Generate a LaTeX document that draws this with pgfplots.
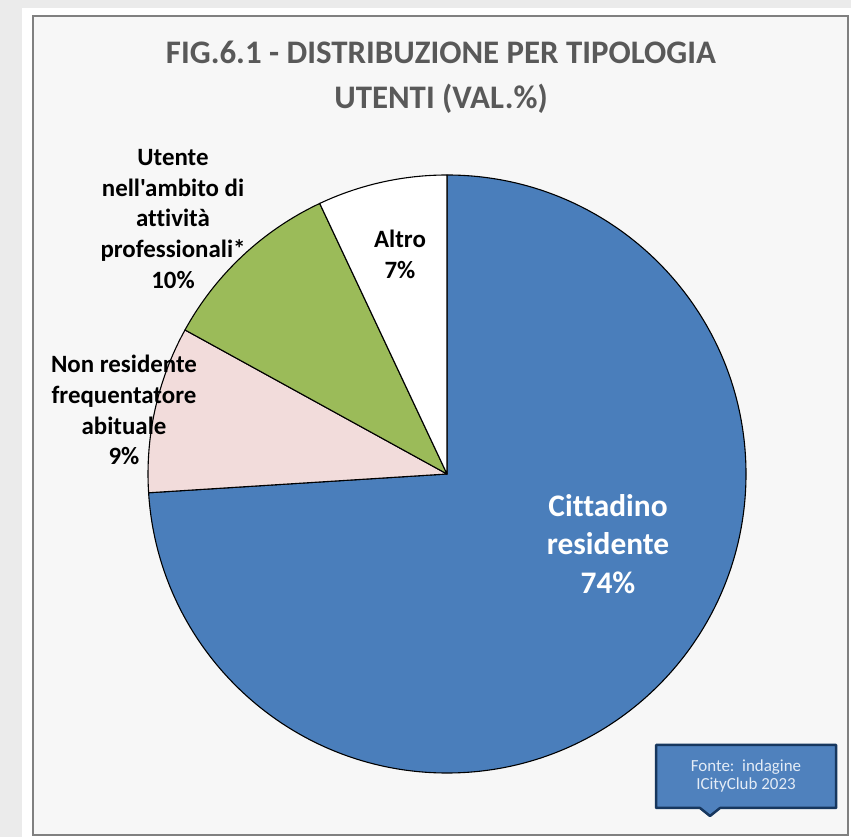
\documentclass[border=0pt]{standalone}
\usepackage{pgfplots}
\pgfplotsset{compat=1.18}
\usepackage{pgfplotstable}
\usepackage{fontspec}
\setmainfont{Carlito}[Ligatures={TeXOff,NoCommon}]

\definecolor{pie0}{HTML}{4A7EBB}
\definecolor{pie1}{HTML}{F2DCDB}
\definecolor{pie2}{HTML}{9BBB59}
\definecolor{pie3}{HTML}{FFFFFF}
\definecolor{titlegray}{HTML}{595959}
\definecolor{panel}{HTML}{F7F7F7}
\definecolor{boxblue}{HTML}{4F81BD}
\definecolor{boxedge}{HTML}{17375E}
\definecolor{boxtext}{HTML}{E4ECF6}

% share of each slice (%), clockwise from 12 o'clock
\pgfplotstableread[col sep=comma]{
slice,value
Cittadino residente,74
Non residente frequentatore abituale,9
Utente attivita professionali,10
Altro,7
}\piedata

\def\cum{0}
\pgfplotsforeachungrouped \i in {0,...,3}{%
  \pgfplotstablegetelem{\i}{value}\of\piedata
  \pgfmathsetmacro\startang{90-3.6*\cum}%
  \pgfmathsetmacro\cum{\cum+\pgfplotsretval}%
  \pgfmathsetmacro\endang{90-3.6*\cum}%
  \expandafter\xdef\csname pieS\i\endcsname{\startang}%
  \expandafter\xdef\csname pieE\i\endcsname{\endang}%
}

\begin{document}
\begin{tikzpicture}[x=1bp,y=1bp]
\useasboundingbox (0,0) rectangle (851,837);
% page and frame
\fill[black!8] (0,0) rectangle (851,837);
\fill[white] (22,0) rectangle (851,829);
\filldraw[fill=panel, draw=black!50, line width=2.5bp] (33,2) rectangle (848,821);

\begin{axis}[
  at={(0,0)}, anchor=south west,
  x=1bp, y=1bp,
  xmin=0, xmax=851, ymin=0, ymax=837,
  hide axis, clip=false,
]
\pgfplotsinvokeforeach{0,...,3}{
  \filldraw[fill=pie#1, draw=black, line width=1.1bp, line join=round]
    (axis cs:447,363) -- ++(\csname pieS#1\endcsname:299bp)
    arc[start angle=\csname pieS#1\endcsname, end angle=\csname pieE#1\endcsname, radius=299bp] -- cycle;
}

% title
\node[font=\fontsize{33}{45}\selectfont\bfseries, text=titlegray, align=center]
  at (axis cs:441,760) {FIG.6.1 - DISTRIBUZIONE PER TIPOLOGIA\\UTENTI (VAL.\%)};

% slice labels
\node[font=\fontsize{25}{31}\selectfont\bfseries, align=center]
  at (axis cs:173,618) {Utente\\nell'ambito di\\attività\\professionali*\\10\%};
\node[font=\fontsize{25}{31}\selectfont\bfseries, align=center]
  at (axis cs:400,583) {Altro\\7\%};
\node[font=\fontsize{25}{31}\selectfont\bfseries, align=center]
  at (axis cs:124,427) {Non residente\\frequentatore\\abituale\\9\%};
\node[font=\fontsize{31.5}{39}\selectfont\bfseries, text=white, align=center]
  at (axis cs:608,293) {Cittadino\\residente\\74\%};

% source box
\filldraw[fill=boxblue, draw=boxedge, line width=2.5bp, line join=round]
  (axis cs:656,92) -- (axis cs:836,92) -- (axis cs:836,29) -- (axis cs:720,29)
  -- (axis cs:710,21) -- (axis cs:700,29) -- (axis cs:656,29) -- cycle;
\node[font=\fontsize{17}{19}\selectfont, text=boxtext, align=center]
  at (axis cs:746,61) {Fonte:\ \ indagine\\ICityClub 2023};
\end{axis}
\end{tikzpicture}
\end{document}
